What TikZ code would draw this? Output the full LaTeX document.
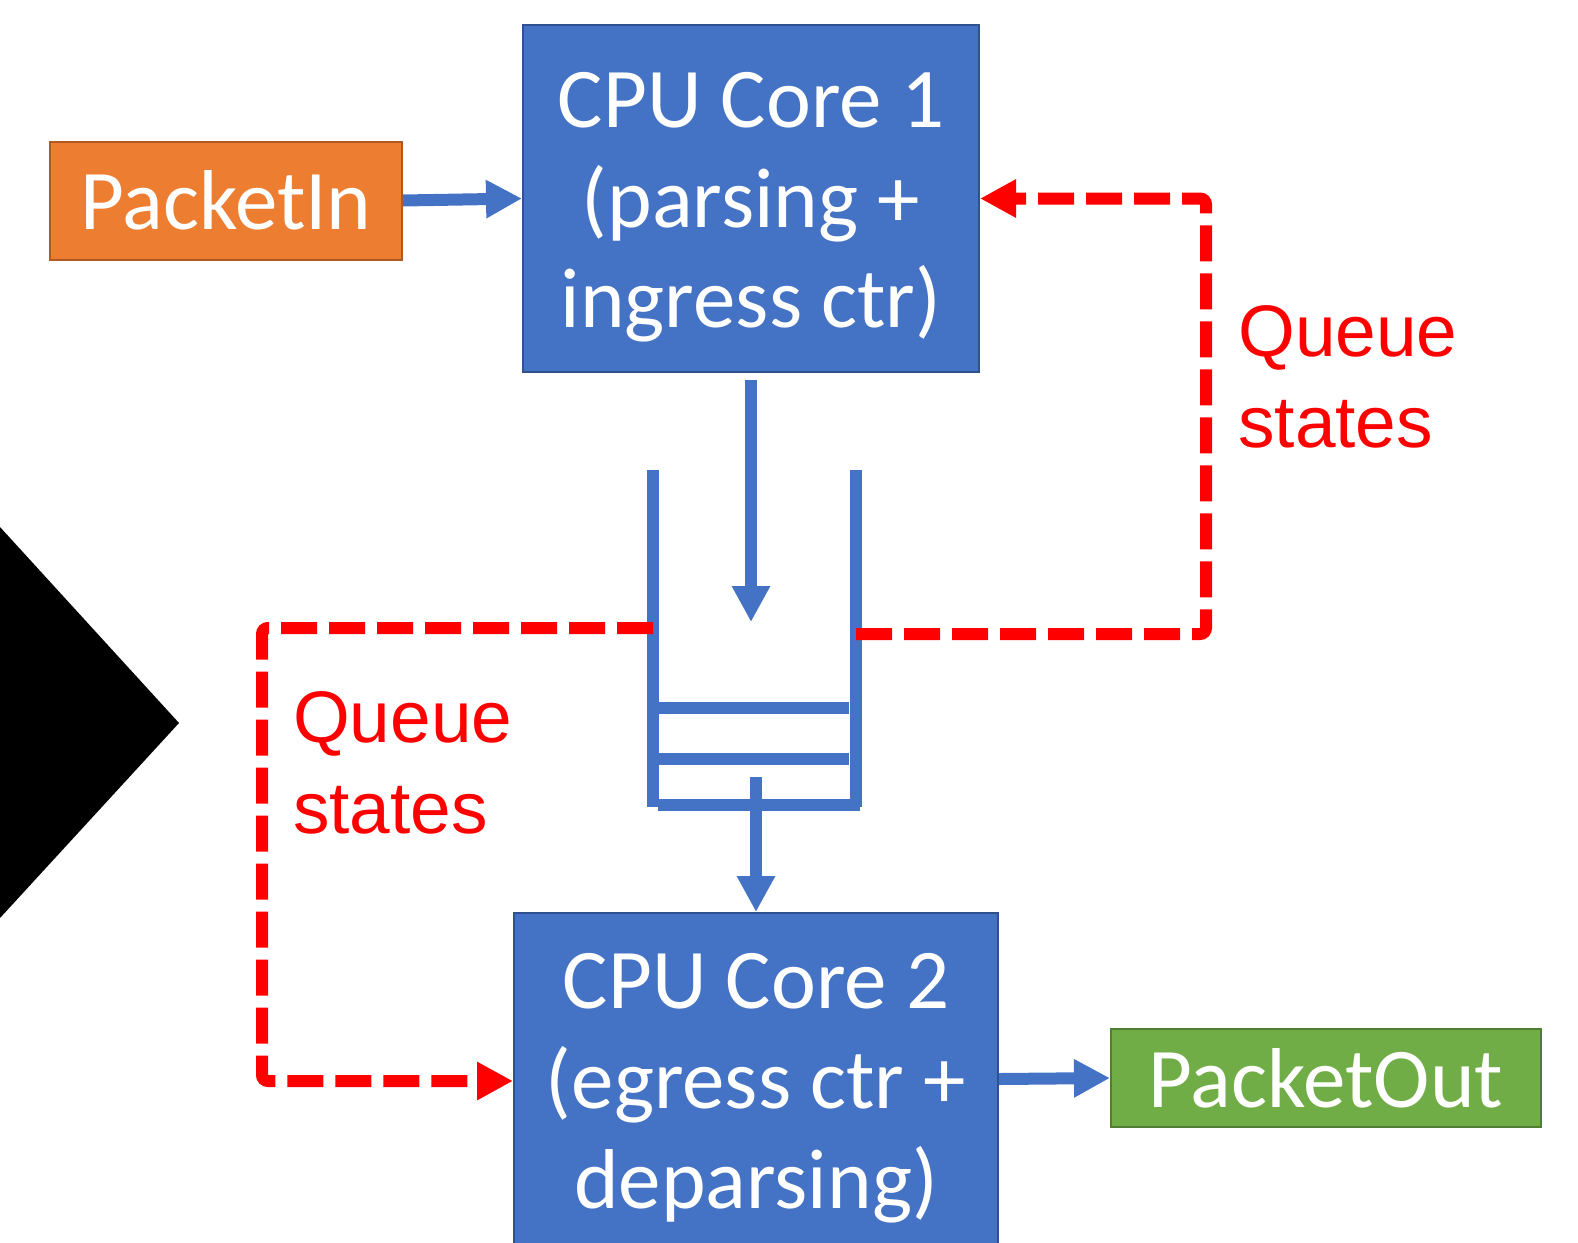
\documentclass[tikz,border=0pt]{standalone}
\usepackage{fontspec}
\usetikzlibrary{arrows.meta}
\newfontfamily\boxfont{Carlito}
\newfontfamily\notefont{Liberation Sans}
\definecolor{coreblue}{HTML}{4472C4}
\definecolor{coreedge}{HTML}{2F528F}
\definecolor{inorange}{HTML}{ED7D31}
\definecolor{inedge}{HTML}{AE5A21}
\definecolor{outgreen}{HTML}{70AD47}
\definecolor{outedge}{HTML}{507E32}
\definecolor{statered}{HTML}{FF0000}
\tikzset{
  corebox/.style={draw=coreedge, fill=coreblue, line width=2pt, text=white,
    align=center, inner sep=0pt,
    font=\boxfont\fontsize{85}{100}\selectfont},
  iobox/.style={line width=2pt, text=white, inner sep=0pt,
    font=\boxfont\fontsize{85}{100}\selectfont},
  flow/.style={draw=coreblue, line width=12pt,
    -{Triangle[width=36pt,length=36pt]}},
  qwall/.style={draw=coreblue, line width=12pt},
  stateflow/.style={draw=statered, line width=12pt, dash pattern=on 36pt off 12pt,
    rounded corners=6pt, -{Triangle[width=36pt,length=36pt]}},
  note/.style={text=statered, anchor=base west, inner sep=0pt,
    font=\notefont\fontsize{73}{92}\selectfont}
}
\begin{document}
\begin{tikzpicture}[x=1pt, y=-1pt]
  \useasboundingbox (0,0) rectangle (1578,1242);

  % side marker
  \fill[black] (0,527) -- (179,723) -- (0,918) -- cycle;

  % processing stages
  \node[corebox, minimum width=456pt, minimum height=347pt] (core1) at (751,198.5)
    {\rule{0pt}{73pt}CPU Core 1\\(parsing +\\ingress ctr)};
  \node[corebox, minimum width=484pt, minimum height=350pt] (core2) at (756,1088)
    {CPU Core 2\\(egress ctr +\\deparsing)};
  \node[iobox, draw=inedge, fill=inorange, minimum width=352pt, minimum height=118pt]
    (pin) at (226,200.5) {PacketIn};
  \node[iobox, draw=outedge, fill=outgreen, minimum width=430pt, minimum height=98pt]
    (pout) at (1326,1078) {PacketOut};

  % queue between the cores
  \coordinate (qlt) at (653,470);
  \coordinate (qlb) at (653,807);
  \coordinate (qrt) at (855.5,470);
  \coordinate (qrb) at (855.5,807);
  \draw[qwall] (qlt) -- (qlb);
  \draw[qwall] (qrt) -- (qrb);
  \draw[qwall] (659,708) -- (849,708);
  \draw[qwall] (659,759) -- (849,759);
  \draw[qwall] (658,805) -- (860,805);

  \coordinate (qin) at (751,622);
  \coordinate (qout) at (756,777);

  % packet flow
  \draw[flow] (pin.east) -- (core1.west);
  \draw[flow] ([yshift=-7pt]core1.south) -- (qin);
  \draw[flow] (qout) -- (core2.north);
  \draw[flow] ([yshift=9pt]core2.east) -- (pout.west);

  % queue state feedback
  \coordinate (qr) at (856,634);
  \coordinate (rcorner) at (1206,634);
  \coordinate (ql) at (653,628);
  \coordinate (lcorner) at (262,628);
  \draw[stateflow] (qr) -- (rcorner) |- (core1.east);
  \draw[stateflow] (ql) -- (lcorner) |- ([yshift=7pt]core2.west);

  \node[note] (rq1) at (1238,356) {Queue};
  \node[note] (rq2) at (1238,447) {states};
  \node[note] (lq1) at (293,742) {Queue};
  \node[note] (lq2) at (293,833) {states};
\end{tikzpicture}
\end{document}
